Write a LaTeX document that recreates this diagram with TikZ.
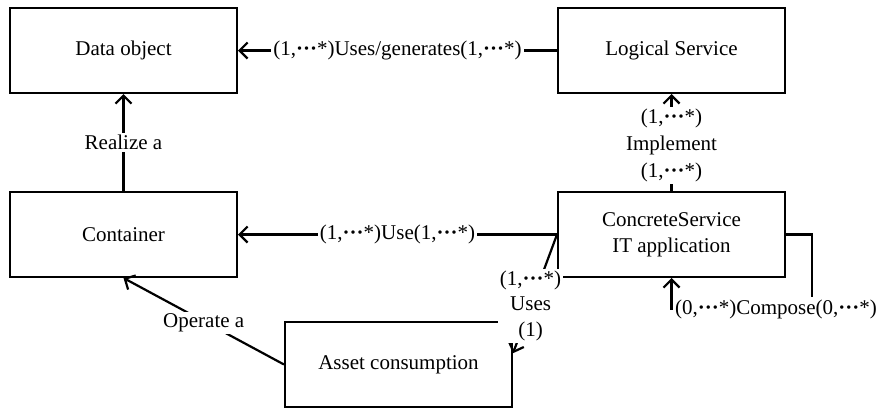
\documentclass[tikz,border=0pt]{standalone}
\usepackage{fontspec}
\setmainfont{Liberation Serif}
\usetikzlibrary{arrows.meta,calc}

\newcommand{\many}[1]{(#1,\textbf{···}*)}

\begin{document}
\begin{tikzpicture}[x=0.5pt,y=-0.5pt,
    font=\fontsize{10.5}{12.8}\selectfont,
    box/.style={draw, line width=1pt, minimum width=113.5pt, minimum height=42.5pt, align=center},
    link/.style={line width=1.1pt, -{Straight Barb[length=4pt,width=8pt]}},
    lbl/.style={fill=white, inner sep=1pt, align=center}]
  \useasboundingbox (0,0) rectangle (882,408);
  \node[box] (data) at (123.5,50.5) {Data object};
  \node[box] (logic) at (671.5,50.5) {Logical Service};
  \node[box] (container) at (123.5,234.5) {Container};
  \node[box] (concrete) at (671.5,234.5) {ConcreteService\\IT application};
  \node[box] (asset) at (398.5,364.5) {Asset consumption};
  \coordinate (loop) at (812,309);
  \coordinate (usesend) at ($(asset.north east)!0.37!(asset.south east)$);

  \draw[link] (logic) -- node[lbl] {\many{1}Uses/generates\many{1}} (data);
  \draw[link] (container) -- node[lbl] {Realize a} (data);
  \draw[link] (concrete) -- node[lbl, yshift=-1.5pt, font=\fontsize{10.5}{13.5}\selectfont] {\many{1}\\Implement\\\many{1}} (logic);
  \draw[link] (concrete) -- node[lbl] {\many{1}Use\many{1}} (container);
  \draw[link] (concrete.west) -- node[lbl, pos=0.6] {\many{1}\\Uses\\(1)} (usesend);
  \draw[link] (asset.west) -- node[lbl, yshift=-1pt] {Operate a} (container.south);
  \draw[link] (concrete.east) -| (loop) -| (concrete.south);
  \node[lbl, anchor=west, xshift=0.6pt] (composelbl) at (concrete.south |- loop) {\many{0}Compose\many{0}};
\end{tikzpicture}
\end{document}
